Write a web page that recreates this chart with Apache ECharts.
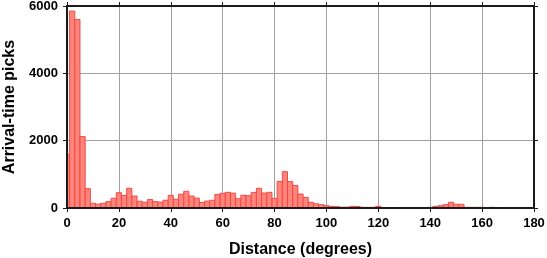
<!DOCTYPE html>
<html>
<head>
<meta charset="utf-8">
<script src="https://cdn.jsdelivr.net/npm/echarts@6/dist/echarts.min.js"></script>
<style>
html,body{margin:0;padding:0;background:#fff;}
#chart{width:547px;height:258px;}
</style>
</head>
<body>
<div id="chart"></div>
<script>
// Bin centers (degrees), 2-degree bins
const binCenters = [0,2,4,6,8,10,12,14,16,18,20,22,24,26,28,30,32,34,36,38,40,42,44,46,48,50,52,54,56,58,60,62,64,66,68,70,72,74,76,78,80,82,84,86,88,90,92,94,96,98,100,102,104,106,108,110,112,114,116,118,120,122,124,126,128,130,132,134,136,138,140,142,144,146,148,150,152,154,156,158,160,162,164,166,168,170,172,174,176,178,180];
// Arrival-time picks per bin
const pickCounts = [1600,5850,5600,2120,575,140,115,140,190,290,455,375,585,355,200,170,250,190,175,230,375,260,410,495,355,295,165,205,230,405,435,465,440,275,380,365,465,585,445,465,285,790,1080,785,670,415,315,170,125,100,70,50,40,25,25,50,45,20,20,20,50,15,15,15,12,12,10,10,10,5,20,50,70,100,170,110,110,20,20,20,20,15,20,15,3,3,2,2,2,2,2];
const xTicks = {min:0, max:180, interval:20};
const yTicks = {min:0, max:6000, interval:2000};

const FONT = "'Liberation Sans', Arial, sans-serif";
const dark = '#1a1a1a';

const chart = echarts.init(document.getElementById('chart'), null, {renderer:'canvas'});

function frameAxis(pos, extra) {
  return Object.assign({
    type:'value', position:pos,
    axisLine:{show:true, onZero:false, lineStyle:{color:dark, width:2}},
    axisTick:{show:true, inside:false, length:4, lineStyle:{color:dark, width:1}},
    axisLabel:{show:false},
    splitLine:{show:false},
    z:10
  }, extra);
}
const plainNum = v => String(v);

const option = {
  animation:false,
  backgroundColor:'#fff',
  grid:{left:67, right:13, top:6, bottom:50, show:false, containLabel:false, outerBoundsMode:'none'},
  xAxis:[
    Object.assign({type:'value', position:'bottom',
      axisLine:{show:false}, axisTick:{show:false}, axisLabel:{show:false},
      splitLine:{show:true, lineStyle:{color:'#a0a0a0', width:1}}, z:0}, xTicks),
    frameAxis('bottom', Object.assign({
      axisLabel:{show:true, margin:9, color:'#000', fontFamily:FONT, fontWeight:'bold', fontSize:13, formatter:plainNum},
      name:'Distance (degrees)', nameLocation:'middle', nameGap:34,
      nameTextStyle:{color:'#000', fontFamily:FONT, fontWeight:'bold', fontSize:16}
    }, xTicks)),
    frameAxis('top', Object.assign({}, xTicks))
  ],
  yAxis:[
    Object.assign({type:'value', position:'left',
      axisLine:{show:false}, axisTick:{show:false}, axisLabel:{show:false},
      splitLine:{show:true, lineStyle:{color:'#a0a0a0', width:1}}, z:0}, yTicks),
    frameAxis('left', Object.assign({
      axisLabel:{show:true, margin:9, color:'#000', fontFamily:FONT, fontWeight:'bold', fontSize:13, formatter:plainNum},
      name:'Arrival-time picks', nameLocation:'middle', nameGap:49,
      nameTextStyle:{color:'#000', fontFamily:FONT, fontWeight:'bold', fontSize:16}
    }, yTicks)),
    frameAxis('right', Object.assign({}, yTicks))
  ],
  series:[{
    type:'custom',
    xAxisIndex:0, yAxisIndex:0,
    data: binCenters.map((c,i)=>[c, pickCounts[i]]),
    encode:{x:0, y:1},
    z:2,
    renderItem:function(params, api){
      const c = api.value(0), v = api.value(1);
      const p0 = api.coord([c-1, v]);
      const p1 = api.coord([c+1, 0]);
      const rect = echarts.graphic.clipRectByRect(
        {x:p0[0], y:p0[1], width:p1[0]-p0[0], height:p1[1]-p0[1]},
        {x:params.coordSys.x, y:params.coordSys.y, width:params.coordSys.width, height:params.coordSys.height});
      if (!rect) return;
      return {type:'rect', shape:rect,
        style:{fill:'#ff857a', stroke:'#f04a48', lineWidth:1}};
    }
  }]
};
chart.setOption(option);
</script>
</body>
</html>
